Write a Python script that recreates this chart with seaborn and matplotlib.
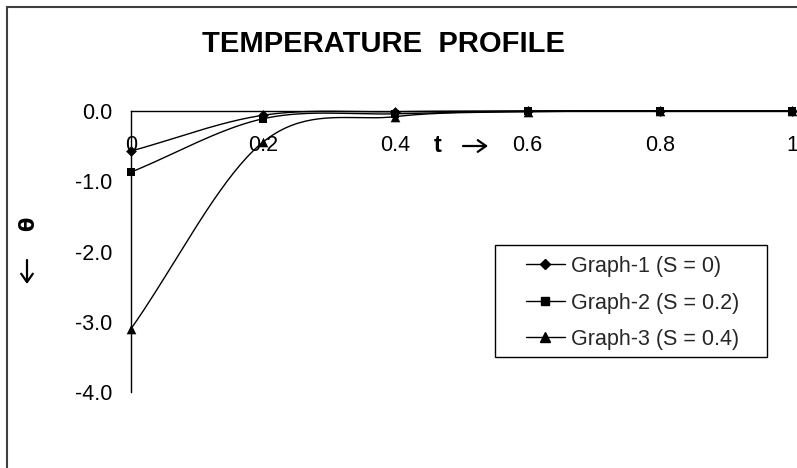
import numpy as np
import pandas as pd
import matplotlib
matplotlib.use("Agg")
import matplotlib.pyplot as plt
import seaborn as sns
from matplotlib.lines import Line2D
from matplotlib.patches import Rectangle, FancyArrowPatch

# ---- data ----
t = [0.0, 0.2, 0.4, 0.6, 0.8, 1.0]
graph1 = [-0.57, -0.06, -0.01, 0.0, 0.0, 0.0]
graph2 = [-0.87, -0.11, -0.04, 0.0, 0.0, 0.0]
graph3 = [-3.10, -0.44, -0.08, -0.01, 0.0, 0.0]
series_names = ["Graph-1 (S = 0)", "Graph-2 (S = 0.2)", "Graph-3 (S = 0.4)"]
x_ticks = [0, 0.2, 0.4, 0.6, 0.8, 1.0]
x_tick_labels = ["0", "0.2", "0.4", "0.6", "0.8", "1"]
y_ticks = [0, -1, -2, -3, -4]
y_tick_labels = ["0.0", "-1.0", "-2.0", "-3.0", "-4.0"]
title = "TEMPERATURE  PROFILE"

sns.set_theme(style="white")
plt.rcParams["font.family"] = ["Liberation Sans", "DejaVu Sans"]


def smooth(x, y, n=40):
    """Catmull-Rom style smoothing (like Excel's smoothed line)."""
    x = np.asarray(x, float)
    y = np.asarray(y, float)
    m = np.zeros_like(y)
    m[0] = (y[1] - y[0]) / (x[1] - x[0])
    m[-1] = (y[-1] - y[-2]) / (x[-1] - x[-2])
    m[1:-1] = (y[2:] - y[:-2]) / (x[2:] - x[:-2])
    xs, ys = [], []
    for i in range(len(x) - 1):
        h = x[i + 1] - x[i]
        s = np.linspace(0, 1, n, endpoint=(i == len(x) - 2))
        h00 = 2 * s**3 - 3 * s**2 + 1
        h10 = s**3 - 2 * s**2 + s
        h01 = -2 * s**3 + 3 * s**2
        h11 = s**3 - s**2
        xs.append(x[i] + s * h)
        ys.append(h00 * y[i] + h10 * h * m[i] + h01 * y[i + 1] + h11 * h * m[i + 1])
    return np.concatenate(xs), np.concatenate(ys)


all_series = [graph1, graph2, graph3]
curve_frames, point_frames = [], []
for name, vals in zip(series_names, all_series):
    sx, sy = smooth(t, vals)
    curve_frames.append(pd.DataFrame({"t": sx, "theta": sy, "series": name}))
    point_frames.append(pd.DataFrame({"t": t, "theta": vals, "series": name}))
curves = pd.concat(curve_frames, ignore_index=True)
points = pd.concat(point_frames, ignore_index=True)

W, H = 797, 468
fig = plt.figure(figsize=(W / 100, H / 100), dpi=100)
ax = fig.add_axes([131 / W, 76 / H, 661 / W, 281 / H])

palette = {n: "black" for n in series_names}
sns.lineplot(data=curves, x="t", y="theta", hue="series", palette=palette,
             sort=False, estimator=None, linewidth=1.0, legend=False, ax=ax)
for ln in ax.lines:
    ln.set_clip_on(False)

marker_map = {series_names[0]: "D", series_names[1]: "s", series_names[2]: "^"}
size_map = {series_names[0]: 30, series_names[1]: 38, series_names[2]: 48}
for name in series_names:
    sub = points[points["series"] == name]
    sns.scatterplot(data=sub, x="t", y="theta", color="black",
                    marker=marker_map[name], s=size_map[name], linewidth=0,
                    legend=False, ax=ax, clip_on=False, zorder=5)

ax.set_xlim(0, 1)
ax.set_ylim(-4, 0)
ax.spines["top"].set_visible(False)
ax.spines["right"].set_visible(False)
ax.spines["bottom"].set_position(("data", 0))
for sp in ("left", "bottom"):
    ax.spines[sp].set_color("black")
    ax.spines[sp].set_linewidth(1.0)
ax.set_xticks(x_ticks)
ax.set_xticklabels(x_tick_labels)
ax.set_yticks(y_ticks)
ax.set_yticklabels(y_tick_labels)
ax.tick_params(axis="x", direction="out", length=3, width=1, pad=14,
               labelsize=15.5, colors="black")
ax.tick_params(axis="y", direction="out", length=5.5, width=1, pad=8,
               labelsize=15.5, colors="black")
ax.set_xlabel("")
ax.set_ylabel("")
ax.patch.set_alpha(0)

# title
fig.text(384 / W, 1 - 44 / H, title, ha="center", va="center",
         fontsize=21, fontweight="bold", color="black")

# axis titles
fig.text(438 / W, 1 - 145 / H, "t", ha="center", va="center",
         fontsize=17, fontweight="bold", color="black")
fig.text(28 / W, 1 - 224 / H, "\u03b8", ha="center", va="center",
         fontsize=15, fontweight="bold", rotation=90, color="black",
         family=["DejaVu Sans"])
arrow_kw = dict(arrowstyle="->,head_length=0.5,head_width=0.35", lw=1.6,
                color="black", shrinkA=0, shrinkB=0, mutation_scale=12)
fig.add_artist(FancyArrowPatch((463 / W, 1 - 146 / H), (488 / W, 1 - 146 / H),
                               transform=fig.transFigure, **arrow_kw))
fig.add_artist(FancyArrowPatch((27 / W, 1 - 260 / H), (27 / W, 1 - 284 / H),
                               transform=fig.transFigure, **arrow_kw))

# legend (frame drawn separately to match the box)
handles = [Line2D([0], [0], color="black", lw=1.0, marker=marker_map[n],
                  markersize=5.5 if n != series_names[2] else 6.5)
           for n in series_names]
leg = fig.legend(handles, series_names, loc="upper left",
                 bbox_to_anchor=(526 / W, 1 - 256 / H), fontsize=15.5,
                 frameon=False, handlelength=1.8,
                 handletextpad=0.3, labelspacing=0.72, borderpad=0.0,
                 borderaxespad=0)
fig.patches.append(Rectangle((495 / W, 1 - 357 / H), 272 / W, 112 / H,
                             transform=fig.transFigure, fill=False,
                             edgecolor="black", linewidth=1.0))

# outer chart border
fig.patches.append(Rectangle((7.5 / W, -0.1), 1.2, 1 - 7.5 / H + 0.1,
                             transform=fig.transFigure, fill=False,
                             edgecolor="#404040", linewidth=1.5))

fig.savefig("out.png", dpi=100)
